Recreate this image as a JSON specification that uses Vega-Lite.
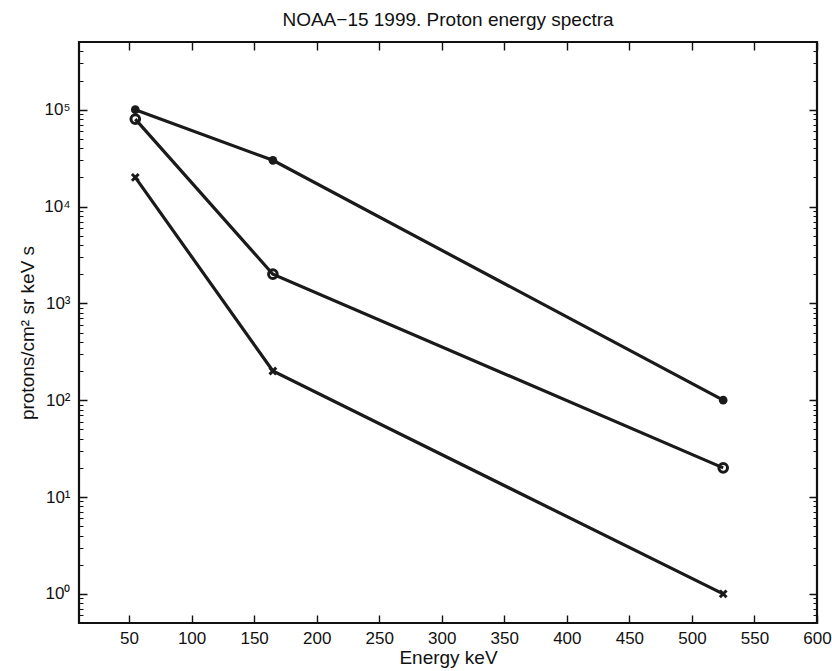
{
  "$schema": "https://vega.github.io/schema/vega-lite/v6.json",
  "width": 738,
  "height": 581,
  "autosize": {"type": "none"},
  "padding": {"left": 79, "top": 42, "right": 15, "bottom": 48},
  "background": "white",
  "title": {"text": "NOAA\u221215 1999. Proton energy spectra", "font": "Liberation Sans", "fontSize": 19, "fontWeight": "normal", "color": "#111", "offset": 12},
  "config": {
    "view": {"stroke": "#111", "strokeWidth": 2.2}
  },
  "data": {"values": [
    {"energy": 55, "flux": 100000, "series": "a"},
    {"energy": 165, "flux": 30000, "series": "a"},
    {"energy": 525, "flux": 100, "series": "a"},
    {"energy": 55, "flux": 80000, "series": "b"},
    {"energy": 165, "flux": 2000, "series": "b"},
    {"energy": 525, "flux": 20, "series": "b"},
    {"energy": 55, "flux": 20000, "series": "c"},
    {"energy": 165, "flux": 200, "series": "c"},
    {"energy": 525, "flux": 1, "series": "c"}
  ]},
  "layer": [
    {
      "mark": {"type": "line", "color": "#1a1a1a", "strokeWidth": 3.2},
      "encoding": {
        "x": {"field": "energy", "type": "quantitative", "scale": {"domain": [10, 600], "nice": false, "zero": false},
              "axis": {"orient": "bottom", "values": [50,100,150,200,250,300,350,400,450,500,550,600], "domain": false, "ticks": false, "grid": true, "gridColor": "#111", "gridWidth": 1.4, "gridOpacity": 1, "gridDash": [8, 565], "labelPadding": 7, "labelFont": "Liberation Sans", "labelFontSize": 17, "labelColor": "#111", "title": "Energy keV", "titleFont": "Liberation Sans", "titleFontSize": 19, "titleFontWeight": "normal", "titleColor": "#111", "titlePadding": 2, "labelFlush": false}},
        "y": {"field": "flux", "type": "quantitative", "scale": {"type": "log", "domain": [0.5, 500000], "nice": false},
              "axis": {"orient": "left", "values": [1,10,100,1000,10000,100000], "domain": false, "ticks": false, "grid": true, "gridColor": "#111", "gridWidth": 1.4, "gridOpacity": 1, "gridDash": [8, 722], "labelPadding": 9, "labelFont": "Liberation Sans", "labelFontSize": 17, "labelColor": "#111", "labelExpr": "['10\u2070','10\u00b9','10\u00b2','10\u00b3','10\u2074','10\u2075'][round(log(datum.value)/LN10)]", "title": "protons/cm\u00b2 sr keV s", "titleFont": "Liberation Sans", "titleFontSize": 19, "titleFontWeight": "normal", "titleColor": "#111", "titlePadding": 6}},
        "detail": {"field": "series"}
      }
    },
    {
      "transform": [{"filter": "datum.series == 'a'"}],
      "mark": {"type": "point", "filled": true, "color": "#1a1a1a", "size": 75, "opacity": 1},
      "encoding": {
        "x": {"field": "energy", "type": "quantitative", "axis": null},
        "y": {"field": "flux", "type": "quantitative", "axis": {"orient": "right", "values": [0.6,0.7,0.8,0.9,2,3,4,5,6,7,8,9,20,30,40,50,60,70,80,90,200,300,400,500,600,700,800,900,2000,3000,4000,5000,6000,7000,8000,9000,20000,30000,40000,50000,60000,70000,80000,90000,200000,300000,400000], "domain": false, "ticks": false, "labels": false, "title": null, "grid": true, "gridColor": "#111", "gridWidth": 1.2, "gridOpacity": 1, "gridDash": [4, 730]}}
      }
    },
    {
      "transform": [{"filter": "datum.series == 'b'"}],
      "mark": {"type": "point", "filled": false, "color": "#1a1a1a", "size": 75, "strokeWidth": 3, "opacity": 1},
      "encoding": {
        "x": {"field": "energy", "type": "quantitative", "axis": null},
        "y": {"field": "flux", "type": "quantitative", "axis": null}
      }
    },
    {
      "transform": [{"filter": "datum.series == 'c'"}],
      "mark": {"type": "point", "shape": "M-1,-1L1,1M-1,1L1,-1", "filled": false, "color": "#1a1a1a", "size": 45, "strokeWidth": 3, "opacity": 1},
      "encoding": {
        "x": {"field": "energy", "type": "quantitative", "axis": null},
        "y": {"field": "flux", "type": "quantitative", "axis": null}
      }
    }
  ],
  "resolve": {"axis": {"x": "independent", "y": "independent"}}
}
